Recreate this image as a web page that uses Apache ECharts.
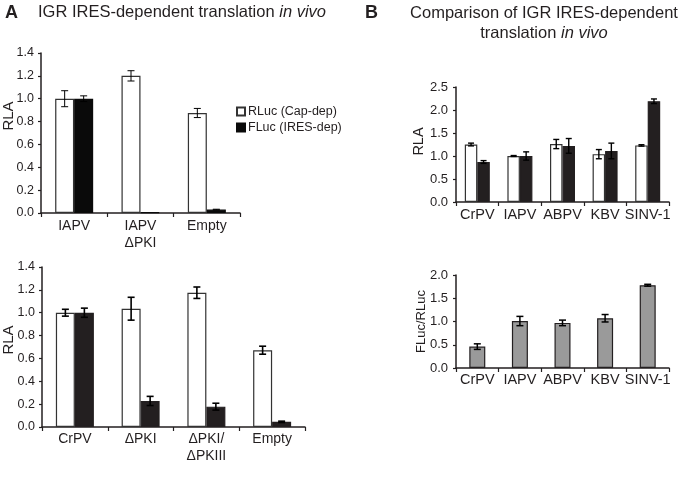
<!DOCTYPE html>
<html>
<head>
<meta charset="utf-8">
<script src="https://cdn.jsdelivr.net/npm/echarts@6/dist/echarts.min.js"></script>
<style>html,body{margin:0;padding:0;background:#fff}#c{width:681px;height:480px}</style>
</head>
<body>
<div id="c"></div>
<script>
// ---- Panel A (top) ----
const catsA1 = ['IAPV', 'IAPV\nΔPKI', 'Empty'];
const rlucA1 = [1.0, 1.2, 0.875];
const rlucErrA1 = [0.07, 0.045, 0.04];
const flucA1 = [1.0, 0.005, 0.03];
const flucErrA1 = [0.025, 0, 0.003];
const ticksA = [0, 0.2, 0.4, 0.6, 0.8, 1.0, 1.2, 1.4];

// ---- Panel A (bottom) ----
const catsA2 = ['CrPV', 'ΔPKI', 'ΔPKI/\nΔPKIII', 'Empty'];
const rlucA2 = [1.0, 1.035, 1.175, 0.672];
const rlucErrA2 = [0.03, 0.1, 0.05, 0.035];
const flucA2 = [1.0, 0.228, 0.178, 0.045];
const flucErrA2 = [0.04, 0.04, 0.03, 0.006];

// ---- Panel B (top) ----
const catsB = ['CrPV', 'IAPV', 'ABPV', 'KBV', 'SINV-1'];
const rlucB = [1.25, 1.0, 1.26, 1.04, 1.23];
const rlucErrB = [0.03, 0.01, 0.1, 0.1, 0.015];
const flucB = [0.87, 1.0, 1.22, 1.11, 2.19];
const flucErrB = [0.03, 0.09, 0.16, 0.17, 0.05];
const ticksB1 = [0, 0.5, 1.0, 1.5, 2.0, 2.5];

// ---- Panel B (bottom) ----
const ratioB = [0.46, 1.01, 0.97, 1.07, 1.78];
const ratioErrB = [0.06, 0.1, 0.06, 0.08, 0.02];
const ticksB2 = [0, 0.5, 1.0, 1.5, 2.0];

const FONT = "'Liberation Sans', Arial, Helvetica, sans-serif";
const TXT = '#231f20';
const NAME_R = 'RLuc (Cap-dep)';
const NAME_F = 'FLuc (IRES-dep)';

const chart = echarts.init(document.getElementById('c'), null, {renderer: 'canvas'});

function yAx(gi, ticks, name, nameSize, nameGap, shift, labelSize, margin) {
  return {
    type: 'value', gridIndex: gi, min: ticks[0], max: ticks[ticks.length - 1],
    interval: ticks[1] - ticks[0],
    name: name, nameLocation: 'middle', nameGap: nameGap, nameMoveOverlap: false,
    nameTextStyle: {fontFamily: FONT, fontSize: nameSize, color: TXT, padding: [0, 0, 0, shift]},
    axisLine: {show: true, lineStyle: {color: TXT, width: 1.5}},
    axisTick: {show: true, length: 3, lineStyle: {color: TXT, width: 1.2}},
    splitLine: {show: false},
    axisLabel: {fontFamily: FONT, fontSize: labelSize, color: TXT, margin: margin,
      formatter: v => v.toFixed(1)}
  };
}
function xAx(gi, cats, size, margin) {
  return {
    type: 'category', gridIndex: gi, data: cats,
    axisLine: {show: true, lineStyle: {color: TXT, width: 1.5}},
    axisTick: {show: true, length: 4, lineStyle: {color: TXT, width: 1.2}},
    axisLabel: {fontFamily: FONT, fontSize: size, color: TXT, margin: margin, lineHeight: 17, interval: 0}
  };
}
function bar(name, gi, vals, color, border, w) {
  return {
    type: 'bar', name: name, xAxisIndex: gi, yAxisIndex: gi, data: vals,
    barWidth: w, barGap: '0%',
    itemStyle: {color: color, borderColor: border, borderWidth: 1.2},
    emphasis: {disabled: true}, silent: true, z: 2
  };
}
function errs(gi, vals, es, offset, cap, lw) {
  return {
    type: 'custom', xAxisIndex: gi, yAxisIndex: gi, silent: true, z: 5,
    data: vals.map((v, i) => [i, v, es[i]]),
    renderItem: function (params, api) {
      const i = api.value(0), v = api.value(1), e = api.value(2);
      if (!(e > 0)) return null;
      const t = api.coord([i, v + e]);
      const b = api.coord([i, v - e]);
      const x = t[0] + offset;
      const st = {stroke: '#000', lineWidth: lw};
      return {type: 'group', children: [
        {type: 'line', shape: {x1: x, y1: t[1], x2: x, y2: b[1]}, style: st},
        {type: 'line', shape: {x1: x - cap / 2, y1: t[1], x2: x + cap / 2, y2: t[1]}, style: st},
        {type: 'line', shape: {x1: x - cap / 2, y1: b[1], x2: x + cap / 2, y2: b[1]}, style: st}
      ]};
    }
  };
}

const wA = 19, wB = 12.5, wB2 = 16;

const option = {
  animation: false,
  backgroundColor: '#fff',
  textStyle: {fontFamily: FONT},
  title: [
    {text: 'A', left: 0, top: -1, textStyle: {fontFamily: FONT, fontSize: 18, fontWeight: 'bold', color: TXT}},
    {text: 'IGR IRES-dependent translation {i|in vivo}', left: 33, top: -1,
      textStyle: {fontFamily: FONT, fontSize: 16.5, fontWeight: 'normal', color: TXT,
        rich: {i: {fontFamily: FONT, fontSize: 16.5, fontStyle: 'italic', color: TXT}}}},
    {text: 'B', left: 360, top: -1, textStyle: {fontFamily: FONT, fontSize: 18, fontWeight: 'bold', color: TXT}},
    {text: 'Comparison of IGR IRES-dependent\ntranslation {i|in vivo}', left: 539, top: -2, textAlign: 'center',
      textStyle: {fontFamily: FONT, fontSize: 16.5, fontWeight: 'normal', color: TXT, lineHeight: 20,
        rich: {i: {fontFamily: FONT, fontSize: 16.5, fontStyle: 'italic', color: TXT, lineHeight: 20}}}}
  ],
  legend: {
    left: 231, top: 100, orient: 'vertical', itemWidth: 8, itemHeight: 8, itemGap: 3,
    icon: 'rect', selectedMode: false,
    textStyle: {fontFamily: FONT, fontSize: 12.5, color: TXT, padding: [0, 0, 0, -2]},
    data: [NAME_R, NAME_F]
  },
  grid: [
    {left: 40, top: 53, width: 200, height: 160},
    {left: 39, top: 267, width: 266, height: 160},
    {left: 456, top: 87, width: 213, height: 115},
    {left: 456, top: 275, width: 213, height: 93}
  ],
  xAxis: [
    xAx(0, catsA1, 14, 5),
    xAx(1, catsA2, 14, 4),
    xAx(2, catsB, 14.5, 4),
    xAx(3, catsB, 14.5, 3)
  ],
  yAxis: [
    yAx(0, ticksA, 'RLA', 15, 25, 34, 12.5, 7),
    yAx(1, ticksA, 'RLA', 15, 26, 14, 12.5, 7),
    yAx(2, ticksB1, 'RLA', 14.5, 30, 6, 13, 8),
    yAx(3, ticksB2, 'FLuc/RLuc', 13, 28, 0, 13, 8)
  ],
  series: [
    bar(NAME_R, 0, rlucA1, '#ffffff', '#333', wA),
    bar(NAME_F, 0, flucA1, '#0a0a0a', '#0a0a0a', wA),
    errs(0, rlucA1, rlucErrA1, -wA / 2, 7, 1),
    errs(0, flucA1, flucErrA1, wA / 2, 7, 1),

    bar(NAME_R, 1, rlucA2, '#ffffff', '#333', wA),
    bar(NAME_F, 1, flucA2, '#231f20', '#231f20', wA),
    errs(1, rlucA2, rlucErrA2, -wA / 2, 7, 1.6),
    errs(1, flucA2, flucErrA2, wA / 2, 7, 1.6),

    bar(NAME_R, 2, rlucB, '#ffffff', '#333', wB),
    bar(NAME_F, 2, flucB, '#231f20', '#231f20', wB),
    errs(2, rlucB, rlucErrB, -wB / 2, 6, 1.4),
    errs(2, flucB, flucErrB, wB / 2, 6, 1.4),

    bar('FLuc/RLuc', 3, ratioB, '#9a9a9a', '#231f20', wB2),
    errs(3, ratioB, ratioErrB, 0, 7, 1.5)
  ]
};
chart.setOption(option);
</script>
</body>
</html>
